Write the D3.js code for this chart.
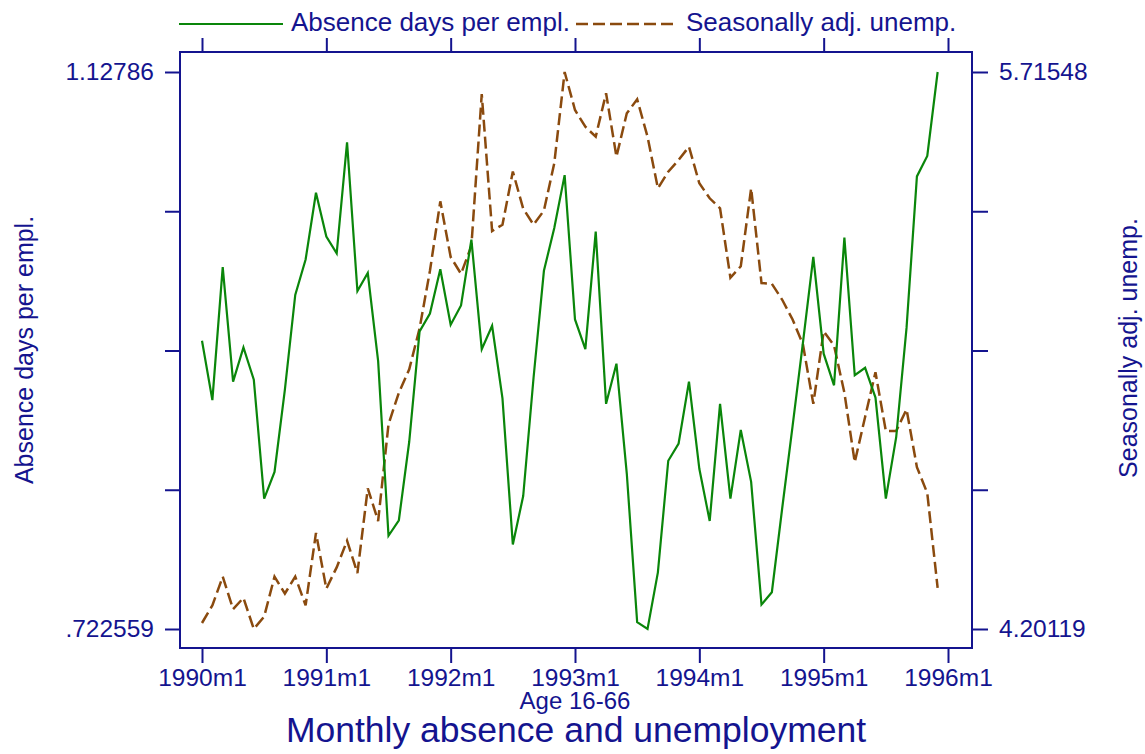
<!DOCTYPE html>
<html>
<head>
<meta charset="utf-8">
<script src="https://cdn.jsdelivr.net/npm/d3@7"></script>
<style>
  body { margin: 0; background: white; }
  svg text { font-family: "Liberation Sans", Arial, sans-serif; fill: #14148f; }
</style>
</head>
<body>
<div id="graphContainer"></div>
<script>
// monthly series, 1990m1 .. 1995m12
const absence = [
    0.9323, 0.8891, 0.9859, 0.9026, 0.9275, 0.9040, 0.8174, 0.8369, 0.8967, 0.9656, 0.9914, 1.0400,
    1.0081, 0.9959, 1.0766, 0.9684, 0.9816, 0.9175, 0.7904, 0.8017, 0.8588, 0.9391, 0.9521, 0.9843,
    0.9440, 0.9580, 1.0059, 0.9262, 0.9432, 0.8904, 0.7841, 0.8193, 0.9054, 0.9832, 1.0144, 1.0528,
    0.9478, 0.9262, 1.0117, 0.8864, 0.9156, 0.8355, 0.7276, 0.722559, 0.7638, 0.8450, 0.8575, 0.9026,
    0.8391, 0.8012, 0.8864, 0.8174, 0.8674, 0.8296, 0.7403, 0.7493, 0.8106, 0.8701, 0.9310, 0.9933,
    0.9229, 0.8999, 1.0073, 0.9072, 0.9126, 0.8910, 0.8174, 0.8621, 0.9418, 1.0519, 1.0668, 1.12786
];
const unemp = [
    4.2175, 4.2654, 4.3434, 4.2553, 4.2857, 4.20119, 4.2352, 4.3434, 4.2977, 4.3434, 4.2654, 4.4625,
    4.3110, 4.3687, 4.4413, 4.3534, 4.5837, 4.4948, 4.7577, 4.8436, 4.9072, 5.0184, 5.1750, 5.3639,
    5.2125, 5.1668, 5.2427, 5.6551, 5.2832, 5.3003, 5.4450, 5.3438, 5.3003, 5.3387, 5.4673, 5.71548,
    5.6122, 5.5667, 5.5396, 5.6576, 5.4852, 5.6032, 5.6413, 5.5396, 5.3993, 5.4444, 5.4762, 5.5124,
    5.4129, 5.3721, 5.3449, 5.1562, 5.1872, 5.3993, 5.1418, 5.1397, 5.0962, 5.0426, 4.9749, 4.8132,
    5.0103, 4.9719, 4.8436, 4.6547, 4.7778, 4.8991, 4.7395, 4.7395, 4.7982, 4.6413, 4.5707, 4.3129
];
const xTickLabels = ['1990m1', '1991m1', '1992m1', '1993m1', '1994m1', '1995m1', '1996m1'];
const leftRange = [0.722559, 1.12786];
const rightRange = [4.20119, 5.71548];
const leftLabels = ['.722559', '1.12786'];
const rightLabels = ['4.20119', '5.71548'];

const navy = '#14148f';
const green = '#0a860a';
const brown = '#8a4a0e';

drawGraph();

function drawGraph() {
    const width = 1145, height = 754;
    const box = { left: 180, right: 972, top: 52, bottom: 648 };

    const svg = d3.select('#graphContainer')
        .append('svg')
        .attr('width', width)
        .attr('height', height);

    const x = d3.scaleLinear().domain([0, 72]).range([202, 948]);
    const yl = d3.scaleLinear().domain(leftRange).range([629, 72]);
    const yr = d3.scaleLinear().domain(rightRange).range([629, 72]);

    const xTicks = xTickLabels.map(function (d, i) { return i * 12; });
    const ticksOf = function (r) {
        return d3.range(5).map(function (k) { return r[0] + k * (r[1] - r[0]) / 4; });
    };

    // frame
    svg.append('rect')
        .attr('x', box.left).attr('y', box.top)
        .attr('width', box.right - box.left).attr('height', box.bottom - box.top)
        .attr('fill', 'none').attr('stroke', navy).attr('stroke-width', 2);

    // axes
    const bottom = svg.append('g')
        .attr('transform', 'translate(0,' + box.bottom + ')')
        .call(d3.axisBottom(x).tickValues(xTicks).tickSize(15).tickPadding(6)
            .tickFormat(function (d, i) { return xTickLabels[i]; }));
    const top = svg.append('g')
        .attr('transform', 'translate(0,' + box.top + ')')
        .call(d3.axisTop(x).tickValues(xTicks).tickSize(14).tickFormat(''));
    const left = svg.append('g')
        .attr('transform', 'translate(' + box.left + ',0)')
        .call(d3.axisLeft(yl).tickValues(ticksOf(leftRange)).tickSize(15).tickPadding(11)
            .tickFormat(function (d, i) { return i == 0 ? leftLabels[0] : (i == 4 ? leftLabels[1] : ''); }));
    const right = svg.append('g')
        .attr('transform', 'translate(' + box.right + ',0)')
        .call(d3.axisRight(yr).tickValues(ticksOf(rightRange)).tickSize(16).tickPadding(11)
            .tickFormat(function (d, i) { return i == 0 ? rightLabels[0] : (i == 4 ? rightLabels[1] : ''); }));

    [bottom, top, left, right].forEach(function (g) {
        g.select('.domain').remove();
        g.selectAll('line').attr('stroke', navy).attr('stroke-width', 2);
        g.selectAll('text').attr('font-size', 24.5).attr('fill', navy)
            .style('font-family', '"Liberation Sans", Arial, sans-serif');
    });

    // series
    const lineL = d3.line()
        .x(function (d, i) { return x(i); })
        .y(function (d) { return yl(d); });
    const lineR = d3.line()
        .x(function (d, i) { return x(i); })
        .y(function (d) { return yr(d); });

    svg.append('path')
        .datum(unemp)
        .attr('d', lineR)
        .attr('fill', 'none')
        .attr('stroke', brown)
        .attr('stroke-width', 2.5)
        .attr('stroke-dasharray', '12,5');

    svg.append('path')
        .datum(absence)
        .attr('d', lineL)
        .attr('fill', 'none')
        .attr('stroke', green)
        .attr('stroke-width', 2.2);

    // legend
    const legend = svg.append('g');
    legend.append('line')
        .attr('x1', 179).attr('x2', 283).attr('y1', 24).attr('y2', 24)
        .attr('stroke', green).attr('stroke-width', 2.2);
    legend.append('text')
        .attr('x', 291).attr('y', 31)
        .attr('font-size', 26)
        .text('Absence days per empl.');
    legend.append('line')
        .attr('x1', 576).attr('x2', 678).attr('y1', 24).attr('y2', 24)
        .attr('stroke', brown).attr('stroke-width', 2.5)
        .attr('stroke-dasharray', '12,5');
    legend.append('text')
        .attr('x', 686).attr('y', 31)
        .attr('font-size', 26)
        .text('Seasonally adj. unemp.');

    // axis titles
    svg.append('text')
        .attr('transform', 'translate(33,350) rotate(-90)')
        .attr('text-anchor', 'middle')
        .attr('font-size', 25)
        .text('Absence days per empl.');
    svg.append('text')
        .attr('transform', 'translate(1137,348) rotate(-90)')
        .attr('text-anchor', 'middle')
        .attr('font-size', 25)
        .text('Seasonally adj. unemp.');

    // note and title
    svg.append('text')
        .attr('x', 575).attr('y', 709)
        .attr('text-anchor', 'middle')
        .attr('font-size', 24)
        .text('Age 16-66');
    svg.append('text')
        .attr('x', 576).attr('y', 742)
        .attr('text-anchor', 'middle')
        .attr('font-size', 35.5)
        .text('Monthly absence and unemployment');
}
</script>
</body>
</html>
